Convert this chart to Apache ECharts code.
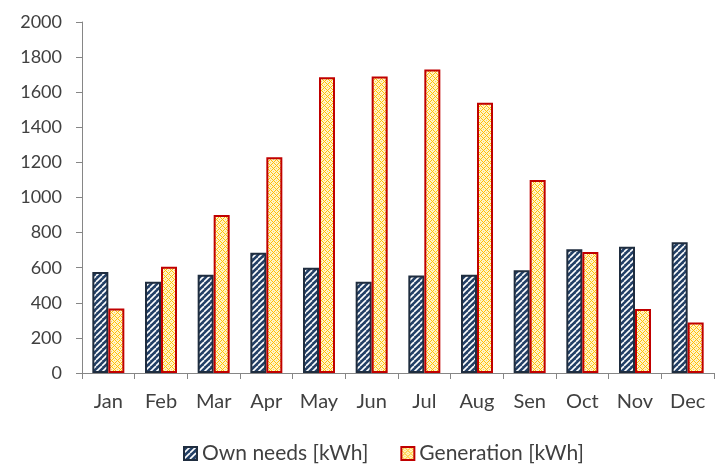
<!DOCTYPE html>
<html><head><meta charset="utf-8">
<script src="https://cdn.jsdelivr.net/npm/echarts@6/dist/echarts.min.js"></script>
<style>html,body{margin:0;padding:0;background:#fff}#c{width:715px;height:466px}</style>
</head><body><div id="c"></div>
<script>
const months = ['Jan','Feb','Mar','Apr','May','Jun','Jul','Aug','Sen','Oct','Nov','Dec'];
const ownNeeds = [575, 520, 560, 685, 600, 520, 555, 560, 585, 705, 720, 745];
const generation = [368, 605, 900, 1230, 1685, 1690, 1730, 1540, 1100, 690, 365, 288];
const seriesNames = ['Own needs [kWh]', 'Generation [kWh]'];

function stripePattern(){
  const c = document.createElement('canvas'); c.width = 6; c.height = 6;
  const g = c.getContext('2d');
  g.fillStyle = '#223F66'; g.fillRect(0,0,6,6);
  g.strokeStyle = '#FFFFFF'; g.lineWidth = 1.6;
  for (let k=-6;k<=12;k+=6){ g.beginPath(); g.moveTo(k,6); g.lineTo(k+6,0); g.stroke(); }
  return c;
}
function hatchPattern(){
  const c = document.createElement('canvas'); c.width = 6; c.height = 6;
  const g = c.getContext('2d');
  g.fillStyle = '#FFF3C8'; g.fillRect(0,0,6,6);
  g.fillStyle = '#FFC000';
  [[3,0],[2,1],[4,1],[1,2],[5,2],[0,3],[1,4],[5,4],[2,5],[4,5]].forEach(p=>g.fillRect(p[0],p[1],1,1));
  g.fillStyle = '#FFD54F';
  [[0,0],[3,3]].forEach(p=>g.fillRect(p[0],p[1],1,1));
  return c;
}
const chart = echarts.init(document.getElementById('c'));
const font = 'Lato, "Open Sans", sans-serif';
chart.setOption({
  animation:false,
  textStyle:{fontFamily:font},
  grid:{left:82,right:1,top:22,bottom:93},
  legend:{top:438,left:178,itemWidth:13,itemHeight:13,itemGap:32,icon:'rect',
    textStyle:{fontSize:21,color:'#404040',fontFamily:font},
    data:seriesNames},
  xAxis:{type:'category',data:months,
    axisLine:{lineStyle:{color:'#868686'}},
    axisTick:{show:true,length:6,lineStyle:{color:'#868686'}},
    axisLabel:{fontSize:20,color:'#404040',margin:19}},
  yAxis:{type:'value',min:0,max:2000,interval:200,
    axisLine:{show:true,lineStyle:{color:'#868686'}},
    axisTick:{show:true,inside:false,length:6,lineStyle:{color:'#868686'}},
    splitLine:{show:false},
    axisLabel:{fontSize:18,color:'#404040',margin:20,formatter:v=>String(v)}},
  series:[
    {name:seriesNames[0],type:'bar',data:ownNeeds,barWidth:16,barGap:'0%',
     itemStyle:{color:{image:stripePattern(),repeat:'repeat'},borderColor:'#1F2D3F',borderWidth:2}},
    {name:seriesNames[1],type:'bar',data:generation,barWidth:16,
     itemStyle:{color:{image:hatchPattern(),repeat:'repeat'},borderColor:'#C00000',borderWidth:2}}
  ]
});
</script></body></html>
